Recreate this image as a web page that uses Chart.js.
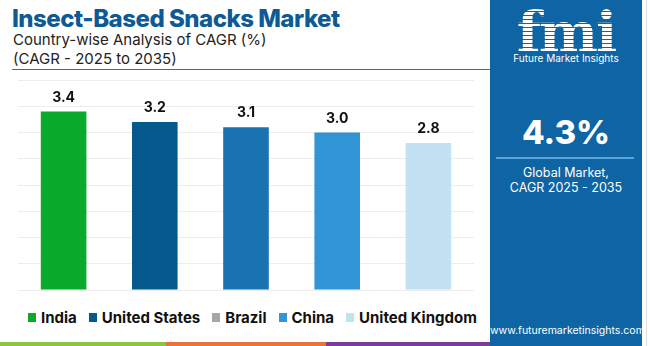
<!DOCTYPE html>
<html>
<head>
<meta charset="utf-8">
<script src="https://cdn.jsdelivr.net/npm/chart.js@4.4.0/dist/chart.umd.min.js"></script>
<style>
  body { margin: 0; width: 650px; height: 346px; overflow: hidden; background: #fff; font-family: Inter, "Noto Sans", sans-serif; position: relative; }
  #title { position: absolute; left: 12px; top: 4px; font-size: 24px; font-weight: 800; color: #0e5a94; letter-spacing: -0.5px; white-space: nowrap; }
  .sub { position: absolute; left: 13px; font-size: 15px; color: #222; white-space: nowrap; }
  #rule { position: absolute; left: 12px; top: 69px; width: 478px; height: 1px; background: #2f6fa6; }
  #chartBox { position: absolute; left: 18px; top: 80px; width: 456px; height: 218px; }
  #legend { position: absolute; left: 28px; top: 308px; display: flex; align-items: center; font-size: 15px; font-weight: 700; color: #111; white-space: nowrap; }
  #legend span.item { display: flex; align-items: center; margin-right: 12px; }
  #legend i { display: inline-block; width: 8px; height: 9px; margin-right: 5px; }
  #panel { position: absolute; left: 490px; top: 0; width: 152px; height: 346px; background: #0f64a4; color: #fff; text-align: center; }
  #logo { position: absolute; left: 0; right: 0; top: 4px; font-family: "DejaVu Serif", serif; font-size: 56px; font-weight: 700; line-height: 56px; letter-spacing: -2px;
          background: repeating-linear-gradient(#fff 0 3px, #0f64a4 3px 4px); -webkit-background-clip: text; background-clip: text; color: transparent; }
  #logoTxt { position: absolute; left: 0; right: 0; top: 52px; font-size: 10px; }
  #big { position: absolute; left: 0; right: 0; top: 112px; font-size: 33px; font-weight: 800; }
  #line2 { position: absolute; left: 6px; width: 138px; top: 157px; height: 2px; background: #5aa6dc; }
  #glob { position: absolute; left: 0; right: 0; top: 165px; font-size: 12.5px; line-height: 15px; }
  #url { position: absolute; left: 0; right: 0; top: 324px; font-size: 10.5px; }
  #edge { position: absolute; left: 646px; top: 0; width: 1px; height: 346px; background: #ddd; }
  #strip { position: absolute; left: 0; top: 342px; height: 4px; width: 490px; display: flex; }
  #strip div { height: 4px; }
</style>
</head>
<body>
<div id="title">Insect-Based Snacks Market</div>
<div class="sub" style="top:30px">Country-wise Analysis of CAGR (%)</div>
<div class="sub" style="top:49px">(CAGR - 2025 to 2035)</div>
<div id="rule"></div>
<div id="chartBox"><canvas id="chart"></canvas></div>
<div id="legend"></div>
<div id="panel">
  <div id="logo">fmi</div>
  <div id="logoTxt">Future Market Insights</div>
  <div id="big">4.3%</div>
  <div id="line2"></div>
  <div id="glob">Global Market,<br>CAGR 2025 - 2035</div>
  <div id="url">www.futuremarketinsights.com</div>
</div>
<div id="edge"></div>
<div id="strip">
  <div style="width:166px;background:#8cc63f"></div>
  <div style="width:160px;background:#e8743b"></div>
  <div style="width:164px;background:#7d3c98"></div>
</div>
<script>
// Данные графика
const countries = ['India', 'United States', 'Brazil', 'China', 'United Kingdom'];
const cagrValues = [3.4, 3.2, 3.1, 3.0, 2.8];
const barColors = ['#0aab2c', '#045a8d', '#1a72b0', '#3194d4', '#c2e1f3'];
const legendColors = ['#0aab2c', '#045a8d', '#a6a6a6', '#3194d4', '#c2e1f3'];

// Легенда
const legendEl = document.getElementById('legend');
countries.forEach((name, i) => {
    legendEl.innerHTML += `<span class="item"><i style="background:${legendColors[i]}"></i>${name}</span>`;
});

// Подписи над столбцами
const valueLabels = {
    id: 'valueLabels',
    afterDatasetsDraw(chart) {
        const ctx = chart.ctx;
        const meta = chart.getDatasetMeta(0);
        ctx.save();
        ctx.font = '700 14px Inter, "Noto Sans", sans-serif';
        ctx.fillStyle = '#111';
        ctx.textAlign = 'center';
        ctx.textBaseline = 'bottom';
        meta.data.forEach((bar, i) => {
            ctx.fillText(cagrValues[i].toFixed(1), bar.x, bar.y - 7);
        });
        ctx.restore();
    }
};

new Chart(document.getElementById('chart'), {
    type: 'bar',
    data: {
        labels: countries,
        datasets: [{
            data: cagrValues,
            backgroundColor: barColors,
            borderWidth: 0,
            categoryPercentage: 1,
            barPercentage: 0.5
        }]
    },
    options: {
        responsive: true,
        maintainAspectRatio: false,
        animation: false,
        layout: { padding: 0 },
        plugins: { legend: { display: false }, tooltip: { enabled: false } },
        scales: {
            x: { display: true, ticks: { display: false }, grid: { display: false }, border: { display: false } },
            y: {
                min: 0, max: 4,
                ticks: { display: false, stepSize: 0.5 },
                grid: { color: '#ececec', drawTicks: false, lineWidth: 1 },
                border: { display: false }
            }
        }
    },
    plugins: [valueLabels]
});
</script>
</body>
</html>
